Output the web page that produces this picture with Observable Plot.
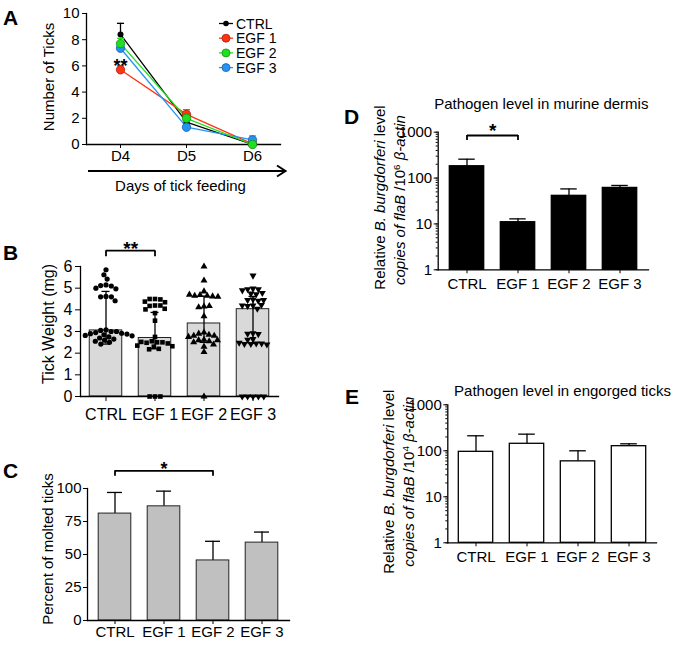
<!DOCTYPE html>
<html><head><meta charset="utf-8">
<script src="https://cdn.jsdelivr.net/npm/d3@7"></script>
<script src="https://cdn.jsdelivr.net/npm/@observablehq/plot@0.6"></script>
<style>
body{margin:0;background:#fff;}
#fig{position:relative;width:685px;height:645px;background:#fff;overflow:hidden;}
</style></head><body><div id="fig"></div>
<script>
// ---------- DATA ----------
const groups = ["CTRL", "EGF 1", "EGF 2", "EGF 3"];
const colorsA = ["#000000", "#ff3214", "#1ee01e", "#2394f5"];

// Panel A: number of ticks per day
const daysA = ["D4", "D5", "D6"];
const ticksCTRL = [8.4, 1.7, 0.0];
const ticksEGF1 = [5.7, 2.3, 0.05];
const ticksEGF2 = [7.7, 2.0, 0.0];
const ticksEGF3 = [7.35, 1.32, 0.35];
const semCTRL = [0.85, 0.15, 0.0];
const semEGF1 = [0.3, 0.35, 0.05];
const semEGF2 = [0.4, 0.25, 0.0];
const semEGF3 = [0.5, 0.2, 0.3];
const ticksA = [0, 2, 4, 6, 8, 10];

// Panel B: tick weight (mg)
const weightCTRL = [5.85, 5.62, 5.42, 5.15, 5.12, 5.1, 5.0, 4.97, 4.62, 4.6, 4.6, 4.42, 3.08, 3.05, 3.0, 3.0, 2.95, 2.92, 2.9, 2.88, 2.85, 2.82, 2.8, 2.75, 2.7, 2.65, 2.6, 2.55, 2.5, 2.42];
const weightEGF1 = [4.5, 4.5, 4.48, 4.38, 4.35, 4.2, 4.18, 4.2, 4.05, 4.02, 3.85, 3.5, 2.75, 2.55, 2.5, 2.5, 2.48, 2.45, 2.52, 2.35, 2.32, 2.3, 2.2, 2.18, 0, 0, 0];
const weightEGF2 = [6.0, 5.35, 4.85, 4.68, 4.65, 4.62, 4.65, 4.6, 4.7, 4.15, 4.12, 4.18, 3.7, 2.95, 2.9, 2.85, 2.8, 2.8, 2.75, 2.62, 2.6, 2.55, 2.5, 2.6, 2.4, 2.3, 2.05, 0];
const weightEGF3 = [5.58, 4.98, 4.95, 4.95, 4.9, 4.75, 4.72, 4.78, 4.48, 4.45, 4.42, 4.45, 4.2, 4.18, 4.22, 4.2, 4.05, 2.92, 2.9, 2.88, 2.65, 2.62, 2.45, 2.42, 2.42, 2.45, 2.4, 2.48, 0, 0, 0, 0, 0];
const weightBar = [3.05, 2.7, 3.37, 4.03];
const weightLo = [2.42, 2.2, 2.5, 2.45];
const weightHi = [4.85, 3.88, 4.63, 4.62];
const ticksB = [0, 1, 2, 3, 4, 5, 6];

// Panel C: percent of molted ticks
const molted = [81, 86.5, 45.5, 59];
const moltedErr = [16, 11.5, 14.5, 8];
const ticksC = [0, 25, 50, 75, 100];

// Panel D: pathogen level in murine dermis
const dermis = [181, 10.9, 41, 61];
const dermisErr = [77, 2, 17, 8];
// Panel E: pathogen level in engorged ticks
const engorged = [95, 142, 59, 126];
const engorgedErr = [117, 88, 41, 16];
const logDomain = [1, 1000];
const ticksLog = [1, 10, 100, 1000];

// significance annotations
const sigA = [{day: "D4", series: 1, label: "**"}];
const sigB = [{a: "CTRL", b: "EGF 1", y: 6.73, yEnd: 6.45, label: "**"}];
const sigC = [{a: "CTRL", b: "EGF 2", mid: "EGF 1", y: 113.4, yEnd: 109.3, label: "*"}];
const sigD = [{a: "CTRL", b: "EGF 1", y: 848, yEnd: 660, label: "*"}];

// ---------- HELPERS ----------
const FONT = "'Liberation Sans', Arial, Helvetica, sans-serif";
const fig = document.getElementById("fig");
function mount(el, left, top) {
  el.style.position = "absolute";
  el.style.left = left + "px";
  el.style.top = top + "px";
  fig.appendChild(el);
}
const baseStyle = {background: "transparent", fontFamily: FONT, fontSize: "15px", color: "#000", overflow: "visible"};
const sqrt3 = Math.sqrt(3);
const triangleDown = {
  draw(context, size) {
    const y = -Math.sqrt(size / (sqrt3 * 3));
    context.moveTo(0, -y * 2);
    context.lineTo(-sqrt3 * y, y);
    context.lineTo(sqrt3 * y, y);
    context.closePath();
  }
};
// horizontal error-bar cap drawn as a symbol
const capSymbol = {
  draw(context, size) {
    const w = Math.sqrt(size) / 2;
    context.moveTo(-w, 0);
    context.lineTo(w, 0);
  }
};
const bracketPieces = sig => [
  Plot.link(sig, {x1: "a", x2: "b", y1: "y", y2: "y", stroke: "#000", strokeWidth: 1.8}),
  Plot.ruleX(sig.flatMap(s => [{g: s.a, y: s.y, e: s.yEnd}, {g: s.b, y: s.y, e: s.yEnd}]), {x: "g", y1: "y", y2: "e", stroke: "#000", strokeWidth: 1.8})
];

// ---------- PANEL A ----------
const seriesA = [ticksCTRL, ticksEGF1, ticksEGF2, ticksEGF3];
const semA = [semCTRL, semEGF1, semEGF2, semEGF3];
const rowsA = groups.map((g, gi) => daysA.map((d, di) => ({group: g, day: d, v: seriesA[gi][di], hi: seriesA[gi][di] + semA[gi][di]})));
const drawOrder = [0, 1, 3, 2];
const plotA = Plot.plot({
  width: 300, height: 165, marginLeft: 86, marginRight: 20, marginTop: 13, marginBottom: 21,
  style: baseStyle,
  x: {type: "point", domain: daysA, padding: 0.463, align: 0.554},
  y: {domain: [ticksA[0], ticksA[ticksA.length - 1]]},
  marks: [
    Plot.frame({anchor: "left", strokeWidth: 1.3}),
    Plot.frame({anchor: "bottom", strokeWidth: 1.3}),
    Plot.axisY({ticks: ticksA, tickSize: 4, tickPadding: 3, tickFormat: "d", label: null, fontSize: 15}),
    Plot.axisX({tickSize: 4, tickPadding: 2, label: null, fontSize: 15}),
    ...drawOrder.map(gi => Plot.line(rowsA[gi], {x: "day", y: "v", stroke: colorsA[gi], strokeWidth: 1.3})),
    ...drawOrder.map(gi => Plot.ruleX(rowsA[gi], {x: "day", y1: "v", y2: "hi", stroke: colorsA[gi], strokeWidth: 1.3})),
    ...drawOrder.map(gi => Plot.dot(rowsA[gi].filter(d => d.hi > d.v), {x: "day", y: "hi", symbol: capSymbol, r: 4, fill: "none", stroke: colorsA[gi], strokeWidth: 1.3})),
    ...drawOrder.map(gi => Plot.dot(rowsA[gi], {x: "day", y: "v", fill: colorsA[gi],
        stroke: gi === 0 ? "none" : d3.color(colorsA[gi]).darker(1.2).formatHex(), strokeWidth: 0.8, r: gi === 0 ? 3 : 4.2})),
    Plot.text(sigA, {x: "day", y: s => seriesA[s.series][daysA.indexOf(s.day)], text: "label", dy: -4, fontSize: 18, fontWeight: "bold"})
  ]
});
mount(plotA, 0, 0);

// ---------- PANEL B ----------
const weightsB = [weightCTRL, weightEGF1, weightEGF2, weightEGF3];
const rowsB = groups.map((g, i) => ({group: g, mean: weightBar[i], lo: weightLo[i], hi: weightHi[i]}));
const ptsB = groups.flatMap((g, i) => weightsB[i].map(v => ({group: g, v})));
const dimB = {width: 300, height: 185, marginLeft: 80, marginRight: 22, marginTop: 26, marginBottom: 29};
const stepB = (dimB.width - dimB.marginLeft - dimB.marginRight) / groups.length;
const plotB = Plot.plot({
  ...dimB, style: baseStyle,
  x: {type: "band", domain: groups, padding: 0},
  y: {domain: [ticksB[0], ticksB[ticksB.length - 1]]},
  marks: [
    Plot.barY(rowsB, {x: "group", y: "mean", fill: "#d9d9d9", stroke: "#222", strokeWidth: 1, insetLeft: 8.25, insetRight: 8.25}),
    Plot.ruleX(rowsB, {x: "group", y1: "lo", y2: "hi", stroke: "#000", strokeWidth: 1.3}),
    Plot.tickY(rowsB, {x: "group", y: "hi", stroke: "#000", strokeWidth: 1.3, insetLeft: 20.5, insetRight: 20.5}),
    Plot.tickY(rowsB, {x: "group", y: "lo", stroke: "#000", strokeWidth: 1.3, insetLeft: 20.5, insetRight: 20.5}),
    Plot.frame({anchor: "left", strokeWidth: 1.3}),
    Plot.frame({anchor: "bottom", strokeWidth: 1.3}),
    Plot.axisY({ticks: ticksB, tickSize: 5, tickPadding: 3, tickFormat: "d", label: null, fontSize: 16}),
    Plot.axisX({tickSize: 5, tickPadding: 7, label: null, fontSize: 16}),
    ...bracketPieces(sigB),
    Plot.text(sigB, {x: "a", y: "y", text: "label", dx: stepB / 2, dy: -2, fontSize: 19, fontWeight: "bold"})
  ]
});
mount(plotB, 0, 240);
const plotBdots = Plot.plot({
  ...dimB, style: baseStyle,
  fx: {domain: groups, padding: 0, axis: null},
  y: {domain: [ticksB[0], ticksB[ticksB.length - 1]], axis: null},
  symbol: {domain: groups, range: ["circle", "square", "triangle", triangleDown]},
  marks: [
    Plot.dot(ptsB, Plot.dodgeX({anchor: "middle", padding: 0.2}, {fx: "group", y: "v", r: 2.6, symbol: "group", fill: "#000", stroke: "none"}))
  ]
});
mount(plotBdots, 0, 240);

// ---------- PANEL C ----------
const rowsC = groups.map((g, i) => ({group: g, v: molted[i], hi: molted[i] + moltedErr[i]}));
const plotC = Plot.plot({
  width: 300, height: 205, marginLeft: 87, marginRight: 11, marginTop: 48, marginBottom: 25,
  style: baseStyle,
  x: {type: "band", domain: groups, paddingInner: 0, paddingOuter: 0.05},
  y: {domain: [ticksC[0], ticksC[ticksC.length - 1]]},
  marks: [
    Plot.ruleX(rowsC, {x: "group", y1: "v", y2: "hi", stroke: "#000", strokeWidth: 1.3}),
    Plot.tickY(rowsC, {x: "group", y: "hi", stroke: "#000", strokeWidth: 1.3, insetLeft: 17, insetRight: 17}),
    Plot.barY(rowsC, {x: "group", y: "v", fill: "#c0c0c0", stroke: "#222", strokeWidth: 1, insetLeft: 8.2, insetRight: 8.2}),
    Plot.frame({anchor: "left", strokeWidth: 1.3}),
    Plot.frame({anchor: "bottom", strokeWidth: 1.3}),
    Plot.axisY({ticks: ticksC, tickSize: 4, tickPadding: 2, tickFormat: "d", label: null, fontSize: 15}),
    Plot.axisX({tickSize: 4, tickPadding: 2, label: null, fontSize: 15}),
    ...bracketPieces(sigC),
    Plot.text(sigC, {x: "mid", y: "y", text: "label", dy: -2, fontSize: 18, fontWeight: "bold"})
  ]
});
mount(plotC, 0, 440);

// ---------- PANELS D & E ----------
function logPanel(values, errs, fill, dims, paddingOuter, sig) {
  const rows = groups.map((g, i) => ({group: g, v: values[i], hi: values[i] + errs[i]}));
  const step = (dims.width - dims.marginLeft - dims.marginRight) / (groups.length + 2 * paddingOuter);
  const capInset = (step - 17) / 2;
  const marks = [
    Plot.ruleX(rows, {x: "group", y1: "v", y2: "hi", stroke: "#000", strokeWidth: 1.3}),
    Plot.tickY(rows, {x: "group", y: "hi", stroke: "#000", strokeWidth: 1.3, insetLeft: capInset, insetRight: capInset}),
    Plot.rectY(rows, {x: "group", y1: logDomain[0], y2: "v", fill, stroke: "#000", strokeWidth: 1.3, insetLeft: 8.3, insetRight: 8.3}),
    Plot.frame({anchor: "left", strokeWidth: 1.3}),
    Plot.frame({anchor: "bottom", strokeWidth: 1.3}),
    Plot.axisY({ticks: d3.scaleLog().domain(logDomain).ticks(), tickSize: 2, tickFormat: () => "", label: null}),
    Plot.axisY({ticks: ticksLog, tickSize: 4, tickPadding: 2, tickFormat: "d", label: null, fontSize: 15}),
    Plot.axisX({tickSize: 4, tickPadding: 5, label: null, fontSize: 15})
  ];
  if (sig) {
    marks.push(
      ...bracketPieces(sig),
      Plot.text(sig, {x: "a", y: "y", text: "label", dx: step / 2, dy: -4.5, fontSize: 19, fontWeight: "bold"})
    );
  }
  return Plot.plot({
    ...dims, style: baseStyle,
    x: {type: "band", domain: groups, paddingInner: 0, paddingOuter},
    y: {type: "log", domain: logDomain},
    marks
  });
}
mount(logPanel(dermis, dermisErr, "#000", {width: 325, height: 230, marginLeft: 77.7, marginRight: 37, marginTop: 51.7, marginBottom: 40.7}, 0.04, sigD), 360, 80);
mount(logPanel(engorged, engorgedErr, "#fff", {width: 325, height: 200, marginLeft: 87.3, marginRight: 29, marginTop: 24.3, marginBottom: 37.7}, 0.03, null), 360, 380);

// ---------- OVERLAY TEXT (labels, legend, titles) ----------
const ov = d3.select(fig).append("svg")
  .attr("width", 685).attr("height", 645)
  .style("position", "absolute").style("left", "0px").style("top", "0px")
  .style("pointer-events", "none")
  .attr("font-family", FONT).attr("fill", "#000");

[["A", 3, 25], ["B", 3, 260], ["C", 3, 478], ["D", 344, 124], ["E", 345, 404]].forEach(([t, x, y]) =>
  ov.append("text").attr("x", x).attr("y", y).attr("font-size", 21).attr("font-weight", "bold").text(t));

function vlabel(x, y, size, parts) {
  const t = ov.append("text").attr("transform", `translate(${x},${y}) rotate(-90)`)
    .attr("text-anchor", "middle").attr("font-size", size);
  parts.forEach(p => {
    const s = t.append("tspan").text(p.t);
    if (p.i) s.attr("font-style", "italic");
    if (p.sup) s.attr("dy", -5).attr("font-size", size * 0.65);
    if (p.after) s.attr("dy", 5);
  });
}
vlabel(53.5, 77, 15, [{t: "Number of Ticks"}]);
vlabel(53.5, 324, 16, [{t: "Tick Weight (mg)"}]);
vlabel(53.3, 549, 15, [{t: "Percent of molted ticks"}]);
vlabel(384.5, 197.5, 15, [{t: "Relative "}, {t: "B. burgdorferi", i: true}, {t: " level"}]);
vlabel(404.5, 200, 15, [{t: "copies of flaB", i: true}, {t: " /10"}, {t: "6", sup: true}, {t: " β-actin", i: true, after: true}]);
vlabel(393.5, 481.7, 15, [{t: "Relative "}, {t: "B. burgdorferi", i: true}, {t: " level"}]);
vlabel(413.5, 481.7, 15, [{t: "copies of flaB", i: true}, {t: " /10"}, {t: "4", sup: true}, {t: " β-actin", i: true, after: true}]);

ov.append("text").attr("x", 541.3).attr("y", 109).attr("text-anchor", "middle").attr("font-size", 15).text("Pathogen level in murine dermis");
ov.append("text").attr("x", 562.5).attr("y", 396).attr("text-anchor", "middle").attr("font-size", 15).text("Pathogen level in engorged ticks");

ov.append("line").attr("x1", 88).attr("x2", 285).attr("y1", 171).attr("y2", 171).attr("stroke", "#000").attr("stroke-width", 2);
ov.append("polyline").attr("points", "277,165.5 285.5,171 277,176.5").attr("fill", "none").attr("stroke", "#000").attr("stroke-width", 2);
ov.append("text").attr("x", 180.5).attr("y", 190.5).attr("text-anchor", "middle").attr("font-size", 15).text("Days of tick feeding");

const legY = [23.5, 38.2, 52.9, 67.6];
groups.forEach((g, i) => {
  const row = ov.append("g").attr("transform", `translate(0,${legY[i]})`);
  row.append("line").attr("x1", 219).attr("x2", 233).attr("stroke", colorsA[i]).attr("stroke-width", 1.3);
  row.append("circle").attr("cx", 226).attr("r", i === 0 ? 2.8 : 4)
    .attr("fill", colorsA[i]).attr("stroke", i === 0 ? "none" : d3.color(colorsA[i]).darker(1.2).formatHex()).attr("stroke-width", 0.8);
  row.append("text").attr("x", 236).attr("y", 5).attr("font-size", 14).text(g);
});
</script></body></html>
